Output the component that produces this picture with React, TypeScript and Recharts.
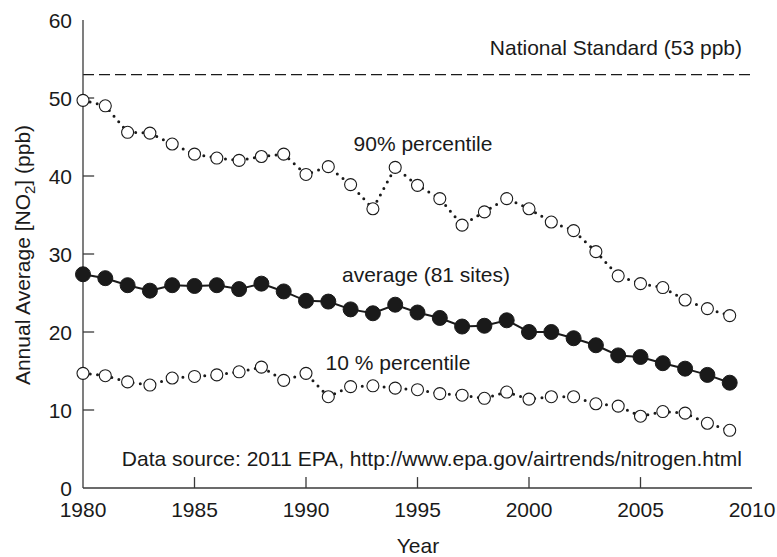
import React from 'react';
import {
  LineChart,
  Line,
  XAxis,
  YAxis,
  ReferenceLine,
} from 'recharts';

/* ── Data ───────────────────────────────────────────────────────── */
const years = [
  1980, 1981, 1982, 1983, 1984, 1985, 1986, 1987, 1988, 1989,
  1990, 1991, 1992, 1993, 1994, 1995, 1996, 1997, 1998, 1999,
  2000, 2001, 2002, 2003, 2004, 2005, 2006, 2007, 2008, 2009,
];
const p90 = [
  49.7, 49.0, 45.6, 45.5, 44.1, 42.8, 42.3, 42.0, 42.5, 42.8,
  40.2, 41.2, 38.9, 35.8, 41.1, 38.8, 37.1, 33.7, 35.4, 37.1,
  35.8, 34.1, 33.0, 30.3, 27.2, 26.2, 25.7, 24.1, 23.0, 22.1,
];
const average = [
  27.4, 26.9, 26.0, 25.3, 26.0, 25.9, 26.0, 25.5, 26.2, 25.2,
  24.0, 23.9, 22.9, 22.4, 23.5, 22.5, 21.8, 20.7, 20.8, 21.5,
  20.0, 20.0, 19.2, 18.3, 17.0, 16.8, 16.0, 15.3, 14.5, 13.5,
];
const p10 = [
  14.7, 14.4, 13.6, 13.2, 14.1, 14.3, 14.5, 14.9, 15.5, 13.8,
  14.7, 11.7, 13.0, 13.1, 12.8, 12.6, 12.1, 11.9, 11.5, 12.3,
  11.4, 11.7, 11.7, 10.8, 10.5, 9.2, 9.8, 9.6, 8.3, 7.4,
];
const xTicks = [1980, 1985, 1990, 1995, 2000, 2005, 2010];
const yTicks = [0, 10, 20, 30, 40, 50, 60];
const nationalStandard = 53;

const data = years.map((year, i) => ({
  year,
  p90: p90[i],
  average: average[i],
  p10: p10[i],
}));

/* ── Style ──────────────────────────────────────────────────────── */
const FONT = "'Liberation Sans', Arial, Helvetica, sans-serif";
const INK = '#1a1a1a';
const AXIS = '#3a3a3a';
const FS = 21;
// inward tick length, in axis units (~11px)
const X_TICK_LEN = 1.4;
const Y_TICK_LEN = 0.5;

const XLabel = (props: any) => (
  <text x={props.x} y={props.y} dy={17} textAnchor="middle" fontFamily={FONT} fontSize={FS} fill={INK}>
    {props.payload.value}
  </text>
);

const YLabel = (props: any) => (
  <text x={props.x} y={props.y} dy={7.5} textAnchor="end" fontFamily={FONT} fontSize={FS} fill={INK}>
    {props.payload.value}
  </text>
);

const openDot = { r: 6, fill: '#fff', stroke: INK, strokeWidth: 1.1, strokeDasharray: 'none' };
const filledDot = { r: 7.5, fill: INK, stroke: INK, strokeWidth: 1 };
const axisLine = { stroke: AXIS, strokeWidth: 1.3 };

const W = 777;
const H = 557;

export default function App() {
  return (
    <div style={{ position: 'relative', width: W, height: H, background: '#fff' }}>
      <style>{'body{margin:0}'}</style>
      <LineChart
        width={W}
        height={H}
        data={data}
        margin={{ top: 20, right: 25, bottom: 0, left: 0 }}
      >
        <XAxis
          dataKey="year"
          type="number"
          domain={[1980, 2010]}
          ticks={xTicks}
          axisLine={axisLine}
          tickLine={false}
          tickSize={0}
          tickMargin={12}
          height={69}
          tick={<XLabel />}
          interval={0}
        />
        <XAxis
          xAxisId="top"
          orientation="top"
          type="number"
          domain={[1980, 2010]}
          axisLine={axisLine}
          tick={false}
          tickLine={false}
          height={0}
        />
        <YAxis
          type="number"
          domain={[0, 60]}
          ticks={yTicks}
          axisLine={axisLine}
          tickLine={false}
          tickSize={0}
          tickMargin={11}
          width={83}
          tick={<YLabel />}
          interval={0}
        />
        <YAxis
          yAxisId="right"
          orientation="right"
          type="number"
          domain={[0, 60]}
          axisLine={axisLine}
          tick={false}
          tickLine={false}
          width={0}
        />

        {/* inward tick marks */}
        {xTicks.slice(1, -1).map((t) => (
          <ReferenceLine
            key={`xt${t}`}
            segment={[{ x: t, y: 0 }, { x: t, y: X_TICK_LEN }]}
            stroke={AXIS}
            strokeWidth={1.3}
            ifOverflow="visible"
          />
        ))}
        {yTicks.slice(1, -1).map((t) => (
          <ReferenceLine
            key={`yt${t}`}
            segment={[{ x: 1980, y: t }, { x: 1980 + Y_TICK_LEN, y: t }]}
            stroke={AXIS}
            strokeWidth={1.3}
            ifOverflow="visible"
          />
        ))}

        <ReferenceLine
          y={nationalStandard}
          stroke={INK}
          strokeWidth={1.2}
          strokeDasharray="11 5"
        />
        <Line
          dataKey="p90"
          type="linear"
          stroke={INK}
          strokeWidth={3}
          strokeLinecap="round"
          strokeDasharray="0 7.3"
          dot={openDot}
          isAnimationActive={false}
        />
        <Line
          dataKey="average"
          type="linear"
          stroke={INK}
          strokeWidth={2}
          dot={filledDot}
          isAnimationActive={false}
        />
        <Line
          dataKey="p10"
          type="linear"
          stroke={INK}
          strokeWidth={3}
          strokeLinecap="round"
          strokeDasharray="0 7.3"
          dot={openDot}
          isAnimationActive={false}
        />
      </LineChart>

      {/* Annotations and axis titles */}
      <svg
        width={W}
        height={H}
        style={{ position: 'absolute', left: 0, top: 0, pointerEvents: 'none' }}
        fontFamily={FONT}
        fontSize={FS}
        fill={INK}
      >
        <text x={742} y={55} textAnchor="end">National Standard (53 ppb)</text>
        <text x={423} y={151} textAnchor="middle">90% percentile</text>
        <text x={426} y={282} textAnchor="middle">average (81 sites)</text>
        <text x={398} y={370} textAnchor="middle">10 % percentile</text>
        <text x={742} y={466} textAnchor="end">
          Data source: 2011 EPA, http://www.epa.gov/airtrends/nitrogen.html
        </text>
        <text x={418} y={553} textAnchor="middle">Year</text>
        <text transform="translate(30,255) rotate(-90)" textAnchor="middle">
          Annual Average [NO
          <tspan fontSize={15} dy={5}>2</tspan>
          <tspan dy={-5}>] (ppb)</tspan>
        </text>
      </svg>
    </div>
  );
}
